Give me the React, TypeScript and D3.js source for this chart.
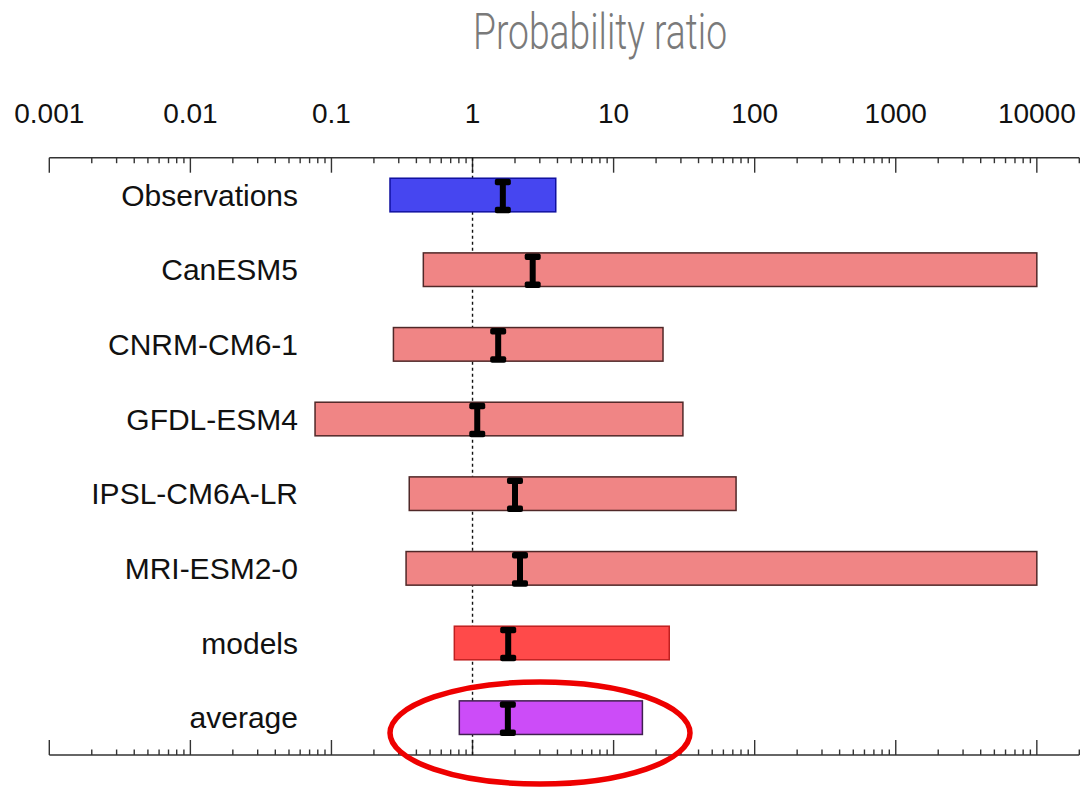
import React from "react";
import * as d3 from "d3";

const categories = ["Observations", "CanESM5", "CNRM-CM6-1", "GFDL-ESM4", "IPSL-CM6A-LR", "MRI-ESM2-0", "models", "average"];
const lowValues = [0.26, 0.448, 0.275, 0.0765, 0.356, 0.338, 0.743, 0.806];
const highValues = [3.89, 10000, 22.4, 31, 73.8, 10000, 24.8, 16.0];
const bestValues = [1.64, 2.67, 1.52, 1.08, 2.0, 2.17, 1.79, 1.78];
const fillColors = ["#4646f0", "#f08585", "#f08585", "#f08585", "#f08585", "#f08585", "#ff4a4a", "#cc4cf8"];
const strokeColors = ["#1010a0", "#502828", "#502828", "#502828", "#502828", "#502828", "#c02020", "#402050"];
const tickValues = [0.001, 0.01, 0.1, 1, 10, 100, 1000, 10000];
const tickLabels = ["0.001", "0.01", "0.1", "1", "10", "100", "1000", "10000"];

export default function App() {
  const W = 1089, H = 787;
  const x = d3.scaleLog().domain([0.001, 20000]).range([49.3, 1079.3]);
  const yTop = 157.7, yBot = 755;
  const y = d3.scaleBand<string>().domain(categories).range([yTop, yBot]).paddingInner(0.55).paddingOuter(0.275);
  const bw = y.bandwidth();
  const ticks = x.ticks();
  const isMajor = (v: number) => Math.abs(Math.log10(v) - Math.round(Math.log10(v))) < 1e-6;
  const font = "'Liberation Sans', Arial, Helvetica, sans-serif";
  const axisColor = "#333";

  return (
    <svg width={W} height={H} style={{ position: "absolute", left: 0, top: 0, background: "#fff" }}>
      <text x={473} y={49} fontFamily="Roboto, sans-serif" fontWeight={300} fontSize={50} fill="#7a7a7a"
        textLength={254} lengthAdjust="spacingAndGlyphs">Probability ratio</text>

      {tickValues.map((v, i) => (
        <text key={"tl" + i} x={x(v)} y={122.5} textAnchor="middle" fontFamily={font} fontSize={28} fill="#111">{tickLabels[i]}</text>
      ))}

      {/* axes */}
      <line x1={x.range()[0]} x2={x.range()[1]} y1={yTop} y2={yTop} stroke={axisColor} strokeWidth={1.6} />
      <line x1={x.range()[0]} x2={x.range()[1]} y1={yBot} y2={yBot} stroke={axisColor} strokeWidth={1.6} />
      {ticks.map((v, i) => {
        const len = isMajor(v) ? 15 : 5.5;
        const xx = x(v);
        return (
          <g key={"tk" + i}>
            <line x1={xx} x2={xx} y1={yTop} y2={yTop + len} stroke={axisColor} strokeWidth={1.4} />
            <line x1={xx} x2={xx} y1={yBot} y2={yBot - len} stroke={axisColor} strokeWidth={1.4} />
          </g>
        );
      })}

      {/* reference line at 1 */}
      <line x1={x(1)} x2={x(1)} y1={yTop} y2={yBot} stroke="#111" strokeWidth={1.4} strokeDasharray="3,3" />

      {categories.map((c, i) => {
        const y0 = y(c)!;
        const cy = y0 + bw / 2;
        const x0 = x(lowValues[i]);
        const x1 = x(highValues[i]);
        const xb = x(bestValues[i]);
        return (
          <g key={c}>
            <text x={298} y={cy} dy="0.36em" textAnchor="end" fontFamily={font} fontSize={30} fill="#111">{c}</text>
            <rect x={x0} y={y0} width={x1 - x0} height={bw} fill={fillColors[i]} stroke={strokeColors[i]} strokeWidth={1.5} />
            <rect x={xb - 3} y={y0 + 2} width={6} height={bw - 2} fill="#000" />
            <rect x={xb - 8} y={y0 + 0.5} width={16} height={6.5} rx={2} fill="#000" />
            <rect x={xb - 8} y={y0 + bw - 5} width={16} height={6.5} rx={2} fill="#000" />
          </g>
        );
      })}

      <ellipse cx={540} cy={733} rx={150} ry={51} fill="none" stroke="#ee0000" strokeWidth={5.5} />
    </svg>
  );
}
